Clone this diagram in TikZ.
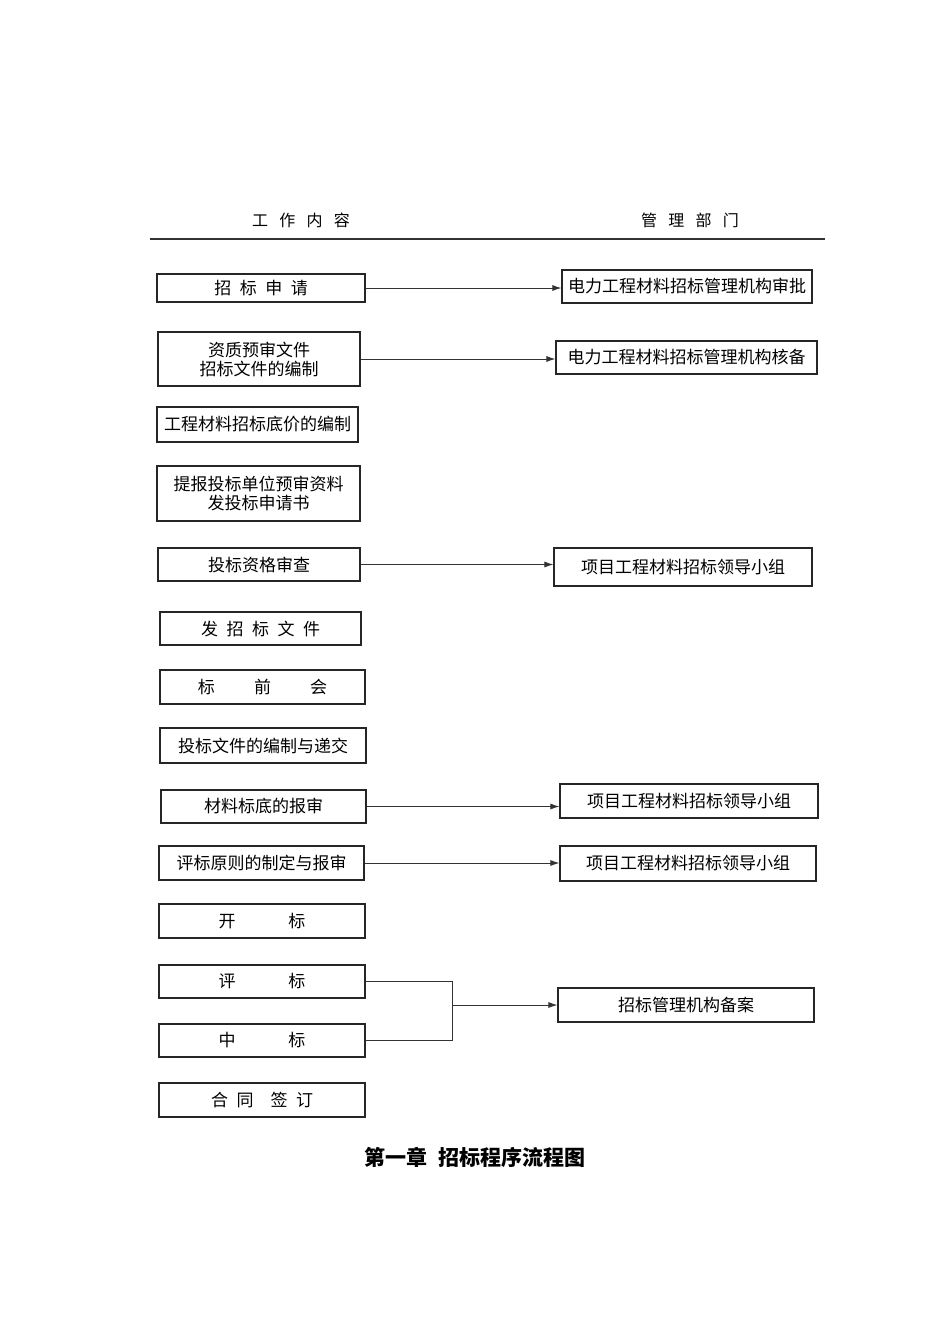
\documentclass[tikz,border=0pt]{standalone}
\usepackage{fontspec}
\setmainfont{Noto Sans CJK SC}
\usetikzlibrary{arrows.meta}
\tikzset{
  bx/.style={draw=black!85, line width=1.1pt, inner sep=0pt, align=center,
    font=\fontsize{17}{21}\selectfont},
  conn/.style={draw=black!80, line width=0.9pt},
  arr/.style={conn, -{Latex[length=9pt,width=6pt]}},
}
\newcommand{\mkbox}[6]{% name, x1, y1, x2, y2, text
  \node[bx, minimum width={#4-#2}, minimum height={#5-#3}] (#1) at ({(#2+#4)/2},{(#3+#5)/2}) {#6};}
\begin{document}
\begin{tikzpicture}[x=1pt,y=-1pt]
\useasboundingbox (0,0) rectangle (950,1344);
\node[font=\fontsize{16}{20}\selectfont] (h1) at (301,220) {工\hspace{0.7em}作\hspace{0.7em}内\hspace{0.7em}容};
\node[font=\fontsize{16}{20}\selectfont] (h2) at (690,220) {管\hspace{0.7em}理\hspace{0.7em}部\hspace{0.7em}门};
\coordinate (la) at (150,239);
\coordinate (lb) at (825,239);
\draw[conn, line width=1.1pt] (la) -- (lb);

\mkbox{a1}{157}{274}{365}{302}{招\hspace{0.5em}标\hspace{0.5em}申\hspace{0.5em}请}
\mkbox{r1}{562}{270}{812}{303}{电力工程材料招标管理机构审批}
\mkbox{a2}{158}{332}{360}{386}{资质预审文件\\[-2pt]招标文件的编制}
\mkbox{r2}{556}{341}{817}{374}{电力工程材料招标管理机构核备}
\mkbox{a3}{157}{407}{358}{442}{工程材料招标底价的编制}
\mkbox{a4}{157}{466}{360}{521}{提报投标单位预审资料\\[-2pt]发投标申请书}
\mkbox{a5}{158}{548}{360}{581}{投标资格审查}
\mkbox{r5}{554}{548}{812}{586}{项目工程材料招标领导小组}
\mkbox{a6}{160}{612}{361}{645}{发\hspace{0.5em}招\hspace{0.5em}标\hspace{0.5em}文\hspace{0.5em}件}
\mkbox{a7}{160}{670}{365}{704}{标\hspace{2.3em}前\hspace{2.3em}会}
\mkbox{a8}{160}{728}{366}{763}{投标文件的编制与递交}
\mkbox{a9}{161}{790}{366}{823}{材料标底的报审}
\mkbox{r9}{560}{784}{818}{818}{项目工程材料招标领导小组}
\mkbox{a10}{159}{846}{364}{880}{评标原则的制定与报审}
\mkbox{r10}{560}{846}{816}{881}{项目工程材料招标领导小组}
\mkbox{a11}{159}{904}{365}{938}{开\hspace{3.1em}标}
\mkbox{a12}{159}{965}{365}{998}{评\hspace{3.1em}标}
\mkbox{a13}{159}{1024}{365}{1057}{中\hspace{3.1em}标}
\mkbox{a14}{159}{1083}{365}{1117}{合\hspace{0.5em}同\hspace{1em}签\hspace{0.5em}订}
\mkbox{r13}{558}{988}{814}{1022}{招标管理机构备案}

\draw[arr] (a1.east) -- (r1.west |- a1.east);
\draw[arr] (a2.east) -- (r2.west |- a2.east);
\draw[arr] (a5.east) -- (r5.west |- a5.east);
\draw[arr] (a9.east) -- (r9.west |- a9.east);
\draw[arr] (a10.east) -- (r10.west |- a10.east);
\coordinate (j) at (452,1005);
\draw[conn] (a12.east) -| (j);
\draw[conn] (a13.east) -| (j);
\draw[arr] (j) -- (r13.west |- j);

\node[font=\fontsize{21}{25}\selectfont\bfseries] (cap) at (475,1157) {第一章\hspace{0.5em}招标程序流程图};
\end{tikzpicture}
\end{document}
